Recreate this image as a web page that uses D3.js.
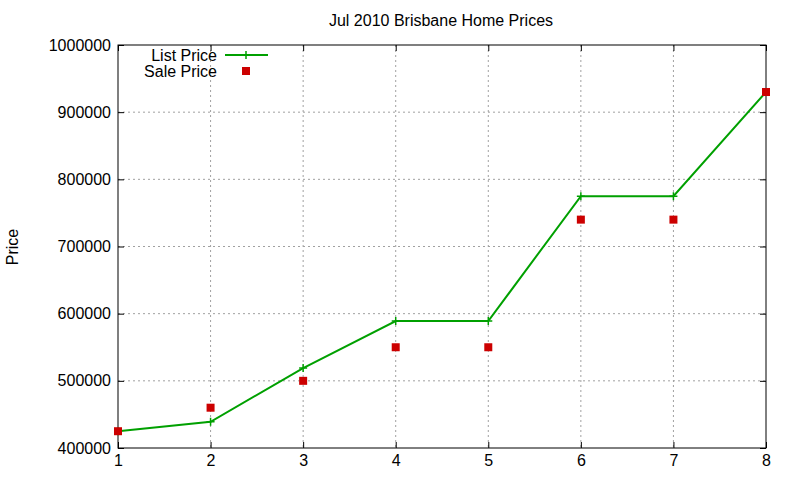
<!DOCTYPE html>
<html><head><meta charset="utf-8">
<script src="https://cdn.jsdelivr.net/npm/d3@7"></script>
<style>body{margin:0;background:#fff}text{font-family:"Liberation Sans",Arial,sans-serif}</style>
</head><body><svg id="c" width="800" height="480"></svg>
<script>
const months=[1,2,3,4,5,6,7,8];
const listPrice=[425000,439000,519000,589000,589000,775000,775000,930000];
const salePrice=[425000,460000,500000,550000,550000,740000,740000,930000];
const yTicks=[400000,500000,600000,700000,800000,900000,1000000];
const title="Jul 2010 Brisbane Home Prices";

const svg=d3.select("#c");
const L=118,R=766,T=45,B=448,FS=16;
const x=d3.scaleLinear().domain([1,8]).range([L,R]);
const y=d3.scaleLinear().domain([400000,1000000]).range([B,T]);
const g=svg.append("g");
months.slice(1,-1).forEach(m=>g.append("line").attr("x1",x(m)).attr("x2",x(m)).attr("y1",T).attr("y2",B).attr("stroke","#a0a0a0").attr("stroke-dasharray","2,3"));
yTicks.slice(1,-1).forEach(v=>g.append("line").attr("x1",L).attr("x2",R).attr("y1",y(v)).attr("y2",y(v)).attr("stroke","#a0a0a0").attr("stroke-dasharray","2,3"));
const ax=d3.axisBottom(x).tickValues(months).tickSize(-6).tickPadding(7).tickFormat(d3.format("d"));
const ay=d3.axisLeft(y).tickValues(yTicks).tickSize(-6).tickPadding(7).tickFormat(d3.format("d"));
const ax2=d3.axisTop(x).tickValues(months).tickSize(-6).tickFormat("");
const ay2=d3.axisRight(y).tickValues(yTicks).tickSize(-6).tickFormat("");
[[ax,`translate(0,${B})`],[ay,`translate(${L},0)`],[ax2,`translate(0,${T})`],[ay2,`translate(${R},0)`]].forEach(([a,t])=>{
 const s=svg.append("g").attr("transform",t).call(a);
 s.select(".domain").remove();
 s.selectAll("text").attr("font-size",FS).attr("fill","#000").style("font-family","Liberation Sans, Arial");
});
svg.append("rect").attr("x",L).attr("y",T).attr("width",R-L).attr("height",B-T).attr("fill","none").attr("stroke","#000");
const green="#00a000";
svg.append("path").datum(months).attr("fill","none").attr("stroke",green).attr("stroke-width",2)
 .attr("d",d3.line().x(d=>x(d)).y((d,i)=>y(listPrice[i])));
const plus=(cx,cy)=>`M${cx-4},${cy}H${cx+4}M${cx},${cy-4}V${cy+4}`;
svg.append("path").attr("stroke",green).attr("stroke-width",1.5).attr("fill","none")
 .attr("d",months.map((m,i)=>plus(x(m),y(listPrice[i]))).join(""));
svg.selectAll(".sp").data(months).join("rect").attr("x",d=>x(d)-4).attr("y",(d,i)=>y(salePrice[i])-4)
 .attr("width",8).attr("height",8).attr("fill","#cc0000");
svg.append("text").attr("x",217).attr("y",61).attr("text-anchor","end").attr("font-size",FS).text("List Price");
svg.append("line").attr("x1",225).attr("x2",268).attr("y1",55).attr("y2",55).attr("stroke",green).attr("stroke-width",2);
svg.append("path").attr("stroke",green).attr("stroke-width",1.5).attr("d",plus(246,55));
svg.append("text").attr("x",217).attr("y",77).attr("text-anchor","end").attr("font-size",FS).text("Sale Price");
svg.append("rect").attr("x",242).attr("y",67).attr("width",8).attr("height",8).attr("fill","#cc0000");
svg.append("text").attr("x",441).attr("y",26).attr("text-anchor","middle").attr("font-size",FS).text(title);
svg.append("text").attr("transform","translate(18,247) rotate(-90)").attr("text-anchor","middle").attr("font-size",FS).text("Price");
</script></body></html>
